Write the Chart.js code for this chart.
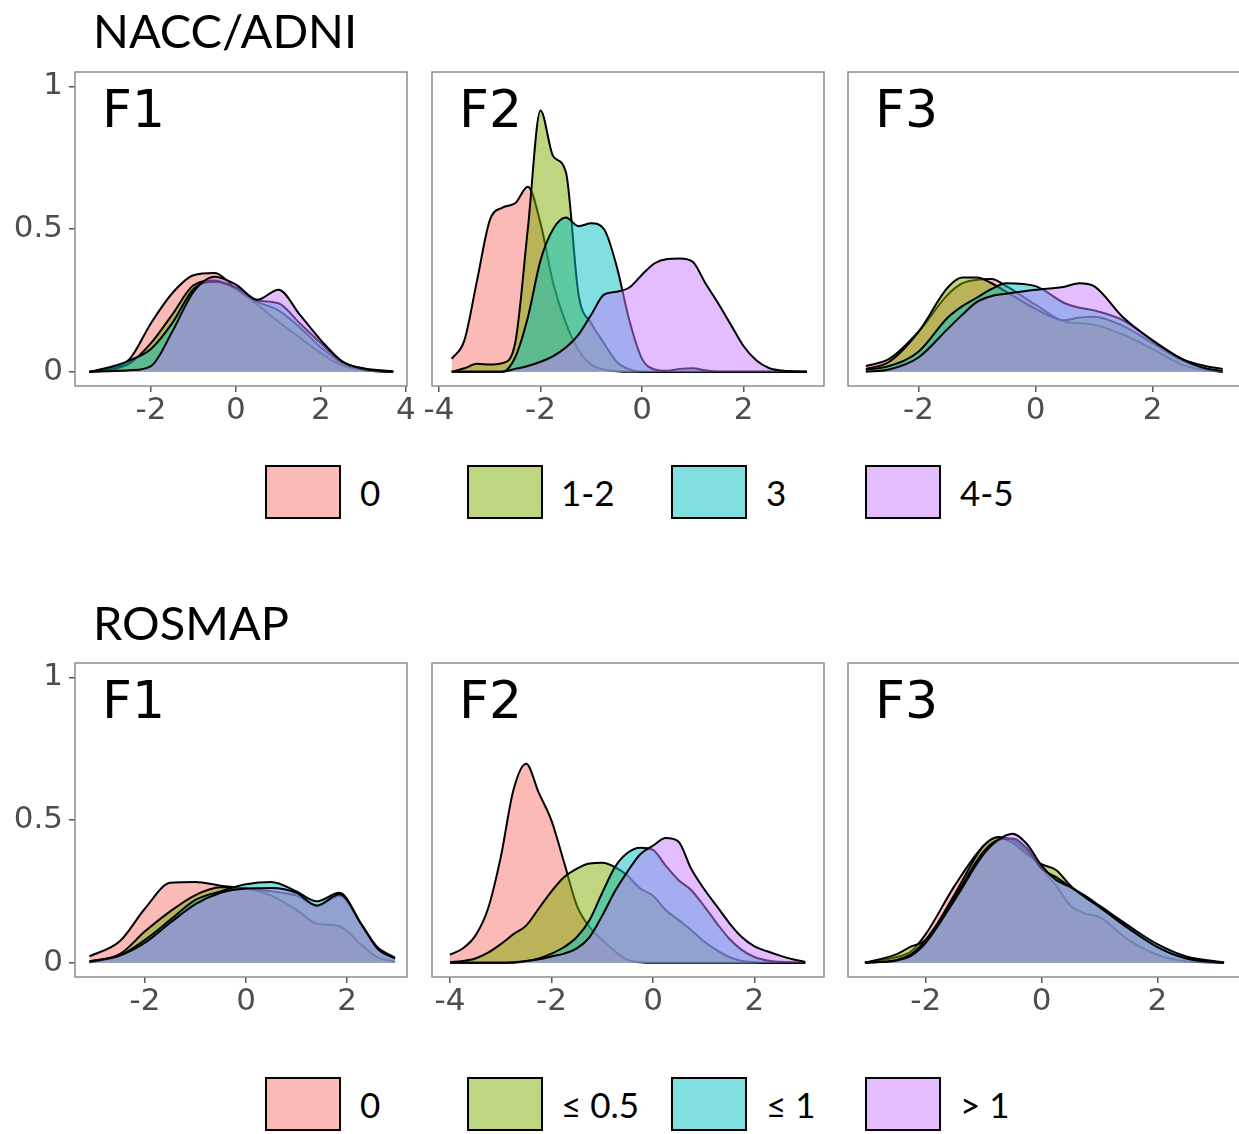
<!DOCTYPE html>
<html>
<head>
<meta charset="utf-8">
<script src="https://cdn.jsdelivr.net/npm/chart.js@4.4.1/dist/chart.umd.min.js"></script>
<style>
  html, body { margin: 0; padding: 0; background: #fff; overflow: hidden; }
  #page { position: relative; width: 1239px; height: 1134px; overflow: hidden; }
  .title { position: absolute; left: 93px; font-family: Lato, sans-serif; font-size: 47px; line-height: 1; color: #000; white-space: nowrap; }
  .flabel { position: absolute; font-family: "DejaVu Sans", sans-serif; font-size: 52px; line-height: 1; color: #000; }
  .key { position: absolute; width: 72px; height: 50px; border: 2px solid #000; }
  .keylab { position: absolute; font-family: Lato, sans-serif; font-size: 35px; line-height: 54px; color: #000; white-space: nowrap; }
  canvas { position: absolute; }
</style>
</head>
<body>
<div id="page"></div>
<script>
// group names for the two cohorts
var naccGroups = ["0", "1-2", "3", "4-5"];
var rosmapGroups = ["0", "\u2264 0.5", "\u2264 1", "> 1"];
var panelNames = ["F1", "F2", "F3"];

var yTicks = [0, 0.5, 1];
var yTickLabels = ["0", "0.5", "1"];

// NACC/ADNI - F1
var naccF1X = [-3.45, -3, -2.5, -2, -1.5, -1, -0.5, 0, 0.5, 1, 1.5, 2, 2.5, 3, 3.7];
var naccF1G0 = [0, 0.01, 0.045, 0.17, 0.275, 0.338, 0.346, 0.29, 0.235, 0.175, 0.12, 0.065, 0.022, 0.005, 0];
var naccF1G1 = [0, 0.005, 0.03, 0.1, 0.2, 0.303, 0.32, 0.29, 0.245, 0.215, 0.155, 0.085, 0.03, 0.006, 0];
var naccF1G2 = [0, 0.015, 0.04, 0.08, 0.17, 0.29, 0.315, 0.295, 0.25, 0.24, 0.17, 0.1, 0.035, 0.012, 0.002];
var naccF1G3 = [0, 0.002, 0.005, 0.02, 0.14, 0.28, 0.333, 0.305, 0.252, 0.287, 0.2, 0.11, 0.036, 0.01, 0];
var naccF1Ticks = [-2, 0, 2, 4];

// NACC/ADNI - F2
var naccF2X = [-3.75, -3.5, -3.25, -3, -2.75, -2.5, -2.25, -2, -1.75, -1.5, -1.25, -1, -0.75, -0.5, -0.25,
  0, 0.25, 0.5, 0.75, 1, 1.25, 1.5, 1.75, 2, 2.25, 2.5, 2.75, 3, 3.25];
var naccF2G0 = [0.045, 0.11, 0.32, 0.53, 0.575, 0.59, 0.648, 0.52, 0.31, 0.17, 0.075, 0.025, 0.008, 0.002, 0,
  0, 0, 0, 0, 0, 0, 0, 0, 0, 0, 0, 0, 0, 0];
var naccF2G1 = [0, 0.012, 0.028, 0.025, 0.03, 0.1, 0.5, 0.915, 0.755, 0.7, 0.27, 0.17, 0.1, 0.035, 0.008,
  0, 0, 0, 0, 0, 0, 0, 0, 0, 0, 0, 0, 0, 0];
var naccF2G2 = [0, 0, 0, 0, 0, 0.05, 0.19, 0.39, 0.5, 0.54, 0.51, 0.52, 0.5, 0.37, 0.18,
  0.045, 0.008, 0.003, 0.01, 0.012, 0.005, 0, 0, 0, 0, 0, 0, 0, 0];
var naccF2G3 = [0, 0, 0, 0, 0, 0.01, 0.02, 0.035, 0.055, 0.085, 0.13, 0.2, 0.27, 0.28, 0.295,
  0.34, 0.38, 0.395, 0.397, 0.385, 0.31, 0.24, 0.165, 0.09, 0.04, 0.013, 0.004, 0.001, 0];
var naccF2Ticks = [-4, -2, 0, 2];

// NACC/ADNI - F3
var naccF3X = [-2.9, -2.5, -2, -1.5, -1.25, -1, -0.75, -0.5, 0, 0.5, 0.75, 1, 1.5, 2, 2.5, 2.9, 3.2];
var naccF3G0 = [0.02, 0.045, 0.14, 0.27, 0.31, 0.322, 0.325, 0.3, 0.235, 0.175, 0.17, 0.165, 0.13, 0.08, 0.025, 0.005, 0];
var naccF3G1 = [0.01, 0.035, 0.14, 0.295, 0.33, 0.33, 0.31, 0.28, 0.22, 0.18, 0.19, 0.193, 0.16, 0.1, 0.04, 0.01, 0];
var naccF3G2 = [0.007, 0.02, 0.07, 0.19, 0.23, 0.26, 0.29, 0.31, 0.3, 0.24, 0.224, 0.215, 0.18, 0.11, 0.045, 0.02, 0.01];
var naccF3G3 = [0, 0.008, 0.05, 0.15, 0.2, 0.245, 0.265, 0.273, 0.287, 0.298, 0.31, 0.3, 0.19, 0.11, 0.045, 0.012, 0.003];
var naccF3Ticks = [-2, 0, 2];

// ROSMAP - F1
var rosF1X = [-3.1, -2.5, -2, -1.5, -1, -0.5, 0, 0.5, 1, 1.4, 1.85, 2.3, 2.6, 2.95];
var rosF1G0 = [0.022, 0.075, 0.19, 0.28, 0.283, 0.27, 0.26, 0.235, 0.185, 0.137, 0.128, 0.06, 0.02, 0.003];
var rosF1G1 = [0.005, 0.03, 0.11, 0.18, 0.237, 0.264, 0.26, 0.25, 0.235, 0.2, 0.235, 0.13, 0.052, 0.014];
var rosF1G2 = [0.002, 0.025, 0.08, 0.15, 0.22, 0.25, 0.275, 0.283, 0.25, 0.215, 0.245, 0.13, 0.055, 0.018];
var rosF1G3 = [0.004, 0.025, 0.07, 0.14, 0.205, 0.245, 0.26, 0.262, 0.245, 0.2, 0.24, 0.13, 0.05, 0.015];
var rosF1Ticks = [-2, 0, 2];

// ROSMAP - F2
var rosF2X = [-4, -3.75, -3.5, -3.25, -3, -2.75, -2.5, -2.25, -2, -1.75, -1.5, -1.25, -1, -0.75, -0.5,
  -0.25, 0, 0.25, 0.5, 0.75, 1, 1.25, 1.5, 1.75, 2, 2.25, 2.5, 2.75, 3];
var rosF2G0 = [0.028, 0.05, 0.095, 0.19, 0.37, 0.605, 0.697, 0.595, 0.498, 0.35, 0.2, 0.125, 0.08, 0.04, 0.01,
  0.002, 0, 0, 0, 0, 0, 0, 0, 0, 0, 0, 0, 0, 0];
var rosF2G1 = [0.002, 0.006, 0.015, 0.035, 0.065, 0.1, 0.13, 0.19, 0.25, 0.3, 0.33, 0.348, 0.35, 0.335, 0.305,
  0.26, 0.235, 0.185, 0.15, 0.115, 0.075, 0.045, 0.02, 0.006, 0.002, 0, 0, 0, 0];
var rosF2G2 = [0, 0, 0, 0, 0, 0, 0.005, 0.015, 0.032, 0.055, 0.09, 0.15, 0.245, 0.335, 0.385,
  0.403, 0.395, 0.34, 0.29, 0.255, 0.2, 0.14, 0.085, 0.045, 0.02, 0.008, 0.003, 0.001, 0];
var rosF2G3 = [0, 0, 0, 0, 0, 0.002, 0.006, 0.012, 0.022, 0.032, 0.05, 0.09, 0.165, 0.25, 0.32,
  0.38, 0.41, 0.437, 0.425, 0.33, 0.26, 0.2, 0.14, 0.09, 0.057, 0.04, 0.025, 0.012, 0.003];
var rosF2Ticks = [-4, -2, 0, 2];

// ROSMAP - F3
var rosF3X = [-3.05, -2.5, -2.25, -2, -1.5, -1, -0.75, -0.5, -0.25, 0, 0.25, 0.5, 0.75, 1, 1.5, 2, 2.5, 3.15];
var rosF3G0 = [0, 0.02, 0.04, 0.1, 0.27, 0.41, 0.44, 0.43, 0.39, 0.33, 0.27, 0.2, 0.172, 0.16, 0.08, 0.028, 0.005, 0];
var rosF3G1 = [0, 0.03, 0.057, 0.08, 0.24, 0.41, 0.44, 0.42, 0.38, 0.345, 0.325, 0.27, 0.23, 0.195, 0.125, 0.055, 0.015, 0];
var rosF3G2 = [0, 0.01, 0.03, 0.08, 0.23, 0.39, 0.43, 0.435, 0.4, 0.33, 0.3, 0.265, 0.235, 0.2, 0.13, 0.065, 0.022, 0.001];
var rosF3G3 = [0, 0.008, 0.025, 0.07, 0.22, 0.38, 0.43, 0.452, 0.415, 0.34, 0.29, 0.265, 0.23, 0.195, 0.12, 0.055, 0.015, 0];
var rosF3Ticks = [-2, 0, 2];

// ggplot hue palette at alpha 0.5
var fillColors = ["rgba(248,118,109,0.5)", "rgba(124,174,0,0.5)", "rgba(0,191,196,0.5)", "rgba(199,124,255,0.5)"];

var page = document.getElementById("page");

var panels = [
  { name: 0, groups: naccGroups, xs: naccF1X, ys: [naccF1G0, naccF1G1, naccF1G2, naccF1G3], ticks: naccF1Ticks,
    l: 75, t: 72, w: 332, h: 314, xMin: -3.788, xMax: 4.024, showY: true },
  { name: 1, groups: naccGroups, xs: naccF2X, ys: [naccF2G0, naccF2G1, naccF2G2, naccF2G3], ticks: naccF2Ticks,
    l: 432, t: 72, w: 392, h: 314, xMin: -4.138, xMax: 3.586, showY: false },
  { name: 2, groups: naccGroups, xs: naccF3X, ys: [naccF3G0, naccF3G1, naccF3G2, naccF3G3], ticks: naccF3Ticks,
    l: 848, t: 72, w: 394, h: 314, xMin: -3.205, xMax: 3.53, showY: false },
  { name: 0, groups: rosmapGroups, xs: rosF1X, ys: [rosF1G0, rosF1G1, rosF1G2, rosF1G3], ticks: rosF1Ticks,
    l: 75, t: 663, w: 332, h: 314, xMin: -3.386, xMax: 3.188, showY: true },
  { name: 1, groups: rosmapGroups, xs: rosF2X, ys: [rosF2G0, rosF2G1, rosF2G2, rosF2G3], ticks: rosF2Ticks,
    l: 432, t: 663, w: 392, h: 314, xMin: -4.355, xMax: 3.37, showY: false },
  { name: 2, groups: rosmapGroups, xs: rosF3X, ys: [rosF3G0, rosF3G1, rosF3G2, rosF3G3], ticks: rosF3Ticks,
    l: 848, t: 663, w: 394, h: 314, xMin: -3.342, xMax: 3.46, showY: false }
];

var boxPlugin = {
  id: "panelBox",
  afterDraw: function (chart) {
    var a = chart.chartArea;
    var ctx = chart.ctx;
    ctx.save();
    ctx.strokeStyle = "#8c8c8c";
    ctx.lineWidth = 1.5;
    ctx.strokeRect(a.left, a.top, a.right - a.left, a.bottom - a.top);
    ctx.restore();
  }
};

var tickFont = { family: "'DejaVu Sans', sans-serif", size: 31 };

function makePanel(p) {
  var yW = p.showY ? 70 : 0;
  var padL = p.showY ? 5 : 20;
  var padR = 30, padT = 32, padB = 4, xH = 52;
  var canvas = document.createElement("canvas");
  canvas.width = padL + yW + p.w + padR;
  canvas.height = padT + p.h + xH + padB;
  canvas.style.left = (p.l - padL - yW) + "px";
  canvas.style.top = (p.t - padT) + "px";
  page.appendChild(canvas);

  var datasets = p.ys.map(function (ys, i) {
    return {
      label: p.groups[i],
      data: p.xs.map(function (x, j) { return { x: x, y: ys[j] }; }),
      fill: "origin",
      backgroundColor: fillColors[i],
      borderColor: "#000",
      borderWidth: 2,
      pointRadius: 0,
      cubicInterpolationMode: "monotone",
      order: 3 - i
    };
  });

  new Chart(canvas.getContext("2d"), {
    type: "line",
    data: { datasets: datasets },
    options: {
      responsive: false,
      animation: false,
      devicePixelRatio: 1,
      layout: { padding: { left: padL, right: padR, top: padT, bottom: padB } },
      plugins: { legend: { display: false }, tooltip: { enabled: false } },
      scales: {
        x: {
          type: "linear",
          min: p.xMin,
          max: p.xMax,
          afterBuildTicks: function (axis) {
            axis.ticks = p.ticks.map(function (v) { return { value: v }; });
          },
          afterFit: function (axis) { axis.height = xH; },
          ticks: {
            autoSkip: false, maxRotation: 0, padding: 0,
            color: "#4d4d4d", font: tickFont,
            callback: function (v) { return String(v); }
          },
          grid: { drawOnChartArea: false, drawTicks: true, tickLength: 6, color: "#555", lineWidth: 1.5 },
          border: { display: false }
        },
        y: {
          display: p.showY,
          min: -0.05,
          max: 1.05,
          afterBuildTicks: function (axis) {
            axis.ticks = yTicks.map(function (v) { return { value: v }; });
          },
          afterFit: function (axis) { axis.width = yW; },
          ticks: {
            autoSkip: false, padding: 6,
            color: "#4d4d4d", font: tickFont,
            callback: function (v) { return yTickLabels[yTicks.indexOf(v)]; }
          },
          grid: { drawOnChartArea: false, drawTicks: true, tickLength: 6, color: "#555", lineWidth: 1.5 },
          border: { display: false }
        }
      }
    },
    plugins: [boxPlugin]
  });

  var lab = document.createElement("div");
  lab.className = "flabel";
  lab.textContent = panelNames[p.name];
  lab.style.left = (p.l + 27) + "px";
  lab.style.top = (p.t + 11) + "px";
  page.appendChild(lab);
}

panels.forEach(makePanel);

function addTitle(text, top) {
  var d = document.createElement("div");
  d.className = "title";
  d.textContent = text;
  d.style.top = top + "px";
  page.appendChild(d);
}
addTitle("NACC/ADNI", 7);
addTitle("ROSMAP", 599);

var keyLefts = [265, 467, 671, 865];
var keyLabelLefts = [360, 561, 766, 960];

function addLegend(groups, top) {
  groups.forEach(function (g, i) {
    var k = document.createElement("div");
    k.className = "key";
    k.style.left = keyLefts[i] + "px";
    k.style.top = top + "px";
    k.style.background = fillColors[i];
    page.appendChild(k);
    var t = document.createElement("div");
    t.className = "keylab";
    t.textContent = g;
    t.style.left = keyLabelLefts[i] + "px";
    t.style.top = top + "px";
    page.appendChild(t);
  });
}
addLegend(naccGroups, 465);
addLegend(rosmapGroups, 1077);
</script>
</body>
</html>
